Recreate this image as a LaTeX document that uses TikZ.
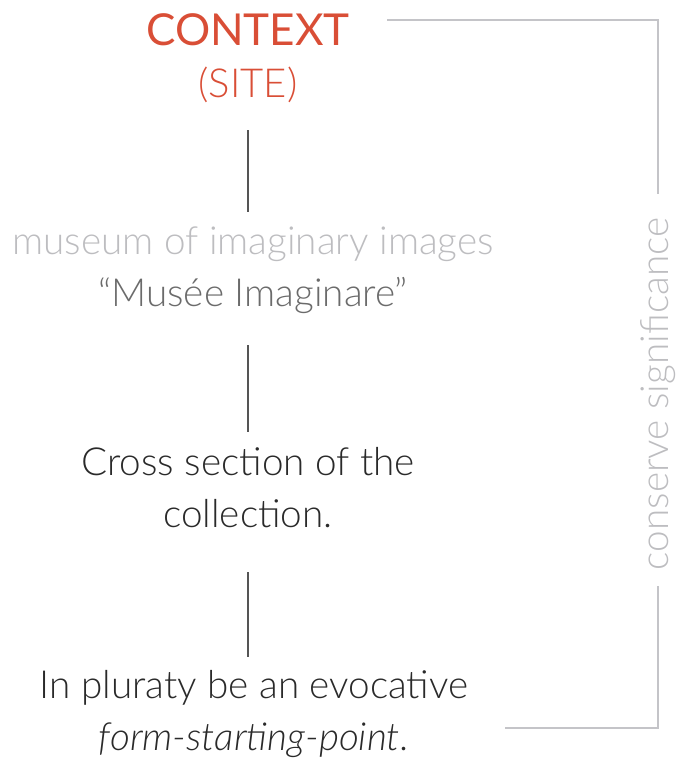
\documentclass[tikz,border=0pt]{standalone}
\usepackage{fontspec}
\setmainfont{Lato}
\newfontfamily\lightf{Lato Light}[ItalicFont={Lato Light Italic}]
\newfontfamily\regf{Lato}
\definecolor{ctxred}{HTML}{D94E36}
\definecolor{paleg}{HTML}{BDBDC0}
\definecolor{midg}{HTML}{6B6B6B}
\definecolor{inkg}{HTML}{2A2A2A}
\definecolor{lineg}{HTML}{555555}
\definecolor{brkg}{HTML}{C4C4C8}
\begin{document}
\begin{tikzpicture}[x=0.75pt,y=-0.75pt,
  txt/.style={align=center,inner sep=0pt,font=\lightf\fontsize{29}{39}\selectfont},
  stem/.style={draw=lineg,line width=1.5pt},
  brk/.style={draw=brkg,line width=1.6pt}]
  \useasboundingbox (0,0) rectangle (682,765);
  % text blocks
  \node[txt,text=ctxred] (ctx) at (248,58)
    {{\regf\fontsize{33}{39}\selectfont CONTEXT}\\{\fontsize{30}{39}\selectfont(SITE)}};
  \node[txt] (mus) at (253,270)
    {\textcolor{paleg}{museum of imaginary images}\\\textcolor{midg}{“Musée Imaginare”}};
  \node[txt,text=inkg] (cross) at (248,488)
    {Cross section of the\\collection.};
  \node[txt,text=inkg] (plur) at (254,714)
    {In pluraty be an evocative\\\textit{form-starting-point}.};
  % vertical stems between the blocks
  \draw[stem] (248,130) -- (248,212);
  \draw[stem] (248,345) -- (248,432);
  \draw[stem] (248,572) -- (248,657);
  % side bracket with its label
  \node[txt,text=paleg,rotate=90] (sig) at (658,394) {conserve significance};
  \coordinate (topL) at (387,20);
  \coordinate (botL) at (505,728);
  \draw[brk,shorten >=18pt] (topL) -| (sig.east);
  \draw[brk,shorten >=12pt] (botL) -| (sig.west);
\end{tikzpicture}
\end{document}
